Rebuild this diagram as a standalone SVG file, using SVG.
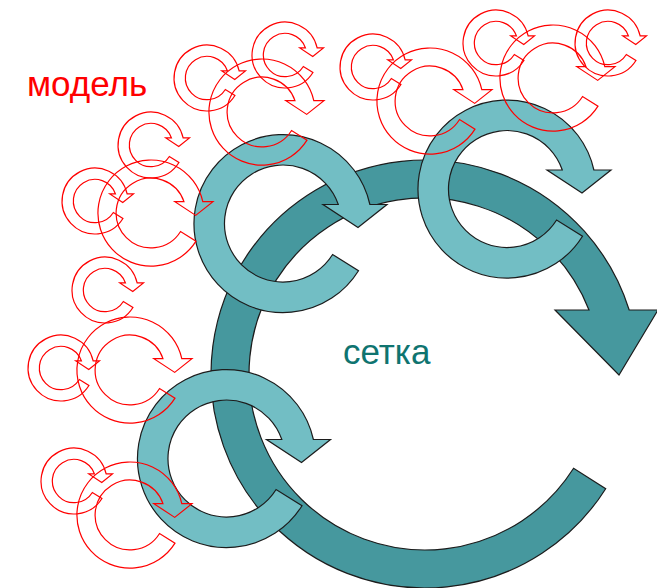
<svg xmlns="http://www.w3.org/2000/svg" xmlns:xlink="http://www.w3.org/1999/xlink" width="657" height="588" viewBox="0 0 657 588">
  <style>
    .ring-dark { fill: #46989e; stroke: #1c1c1c; stroke-width: 1.2; stroke-linejoin: miter; }
    .ring-light { fill: #72bec4; stroke: #1c1c1c; stroke-width: 1.2; stroke-linejoin: miter; }
    .ring-red { fill: none; stroke: #ff0000; stroke-width: 1.2; }
    .label { font-family: "Liberation Sans", Arial, sans-serif; font-size: 35px; }
  </style>
  <defs>
    <!-- circular arrow, outer radius 89, centred on the origin; head at the upper right pointing down -->
    <path id="cyc" vector-effect="non-scaling-stroke"
          d="M 75.5 47.2 A 89 89 0 1 1 86.9 -19 L 104 -19 L 75 4 L 40 -19 L 55.3 -19 A 58.5 58.5 0 1 0 49.6 31 Z"/>
  </defs>

  <!-- large grid cycle -->
  <g id="grid-cycle">
    <path class="ring-dark"
          d="M 605.7 488.7 A 214 214 0 1 1 629.2 310 L 658 310 L 619 375 L 555 310 L 589 310 A 176 176 0 1 0 573.6 468.3 Z"/>
  </g>

  <!-- three sub-cycles riding on the grid cycle -->
  <g id="sub-cycle-1"><use xlink:href="#cyc" class="ring-light" transform="translate(283 223.5)"/></g>
  <g id="sub-cycle-2"><use xlink:href="#cyc" class="ring-light" transform="translate(507 189)"/></g>
  <g id="sub-cycle-3"><use xlink:href="#cyc" class="ring-light" transform="translate(226.5 458.5)"/></g>

  <!-- model cycles: small and large outlined arrows -->
  <g id="model-cycles">
    <use xlink:href="#cyc" class="ring-red" transform="translate(207 78) scale(0.37)"/>
    <use xlink:href="#cyc" class="ring-red" transform="translate(285 55) scale(0.37)"/>
    <use xlink:href="#cyc" class="ring-red" transform="translate(262 112) scale(0.596)"/>
    <use xlink:href="#cyc" class="ring-red" transform="translate(373 67) scale(0.37)"/>
    <use xlink:href="#cyc" class="ring-red" transform="translate(430 101) scale(0.596)"/>
    <use xlink:href="#cyc" class="ring-red" transform="translate(496 43) scale(0.37)"/>
    <use xlink:href="#cyc" class="ring-red" transform="translate(553 78) scale(0.596)"/>
    <use xlink:href="#cyc" class="ring-red" transform="translate(608 43) scale(0.37)"/>

    <use xlink:href="#cyc" class="ring-red" transform="translate(151 145) scale(0.37)"/>
    <use xlink:href="#cyc" class="ring-red" transform="translate(151 213) scale(0.596)"/>
    <use xlink:href="#cyc" class="ring-red" transform="translate(95 201) scale(0.37)"/>
    <use xlink:href="#cyc" class="ring-red" transform="translate(105 290) scale(0.37)"/>
    <use xlink:href="#cyc" class="ring-red" transform="translate(61 368) scale(0.37)"/>
    <use xlink:href="#cyc" class="ring-red" transform="translate(130 370) scale(0.596)"/>
    <use xlink:href="#cyc" class="ring-red" transform="translate(74 481) scale(0.37)"/>
    <use xlink:href="#cyc" class="ring-red" transform="translate(130 515) scale(0.596)"/>
  </g>

  <g id="label-model"><text class="label" x="27" y="96" fill="#ff0000">модель</text></g>
  <g id="label-grid"><text class="label" x="343" y="364" fill="#0f7470">сетка</text></g>
</svg>
